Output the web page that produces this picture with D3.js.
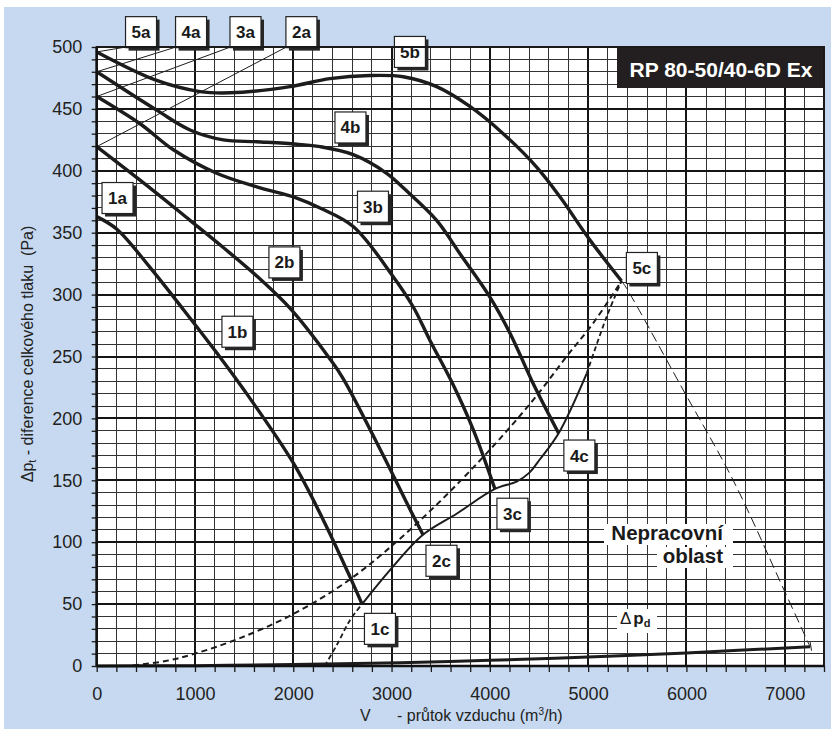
<!DOCTYPE html>
<html><head><meta charset="utf-8">
<script src="https://cdn.jsdelivr.net/npm/d3@7/dist/d3.min.js"></script>
<style>
html,body{margin:0;padding:0;background:#fff;}
svg{display:block;font-family:"Liberation Sans",Arial,Helvetica,sans-serif;}
</style></head>
<body>
<svg id="chart" width="835" height="729"></svg>
<script>
// ---- data (airflow m3/h, pressure Pa) ----
const xTicks = [0,1000,2000,3000,4000,5000,6000,7000];
const yTicks = [0,50,100,150,200,250,300,350,400,450,500];
const curve1 = [[0,363],[203,353],[542,322],[881,288],[1221,253],[1490,224],[2000,164],[2305,118],[2577,72],[2700,50]];
const curve2 = [[0,419.5],[576,384],[949,360],[1288,338],[1628,315],[1966,289],[2373,248],[2509,232],[2916,170],[3153,132],[3320,106]];
const curve3 = [[0,460],[441,438],[780,417],[1221,398],[1628,387],[2035,378],[2272,370],[2610,355],[3017,314.5],[3221,290],[3391,263],[3628,227],[3831,191],[4052,143]];
const curve4 = [[0,480],[610,449],[949,433],[1288,425],[1628,423.5],[2035,421.5],[2272,419.5],[2610,413],[2950,398],[3136,385],[3459,360],[3696,333],[4001,298],[4204,269],[4442,228],[4700,188]];
const curve5 = [[0,496],[610,473],[1051,464],[1356,463],[1967,468],[2373,474.5],[2780,477],[3119,476],[3459,468],[3797,452],[4136,430],[4476,403],[4713,379],[5019,344],[5340,311]];
const systemCurve = [[370,0.5],[700,4],[1000,10],[1458,22.5],[2000,42],[2577,70],[3221,112.5],[3899,166],[4442,215],[4781,250],[5052,277],[5340,311]];
const limitLow = [[2320,0],[2450,18],[2577,37],[2700,50]];
const limitMid = [[2700,50],[2984,77.5],[3320,106],[3662,123],[4052,143],[4273,149],[4400,156],[4510,167],[4700,188],[4984,236]];
const limitHigh = [[4984,236],[5188,282],[5340,311]];
const limitRight = [[5340,311],[5392,305],[5967,223],[6476,150],[6984,63],[7258,15.6]];
const dynPressure = [[0,0],[1000,0.3],[2000,1.2],[3087,2.7],[4000,4.6],[5000,7.3],[6000,10.6],[7258,15.6]];
const curveStarts = [496,480,460,419.5];
const labelNames = ["5a","4a","3a","2a","1a","5b","4b","3b","2b","1b","5c","4c","3c","2c","1c"];
const labelV = [451,960,1514,2083,212,3187,2582,2811,1910,1432,5547,4911,4230,3508,2882];
const labelP = [512,512,512,512,378,496,435,371,326,270,321.5,170,123,85,30];

const svg = d3.select("#chart");
const x = d3.scaleLinear().domain([0,7400]).range([96.7,824]);
const y = d3.scaleLinear().domain([0,500]).range([666,47]);
const ink = "#1c1c1c";

// background
svg.append("rect").attr("x",4).attr("y",7).attr("width",827).attr("height",722).attr("fill","#c6d9f0");
svg.append("rect").attr("x",x(0)).attr("y",y(500)).attr("width",x(7400)-x(0)).attr("height",y(0)-y(500)).attr("fill","#fff");

// grid
const g = svg.append("g").attr("shape-rendering","crispEdges");
d3.range(200,7400,200).forEach(v=>{
  const major = v%1000===0;
  g.append("line").attr("x1",x(v)).attr("x2",x(v)).attr("y1",y(0)).attr("y2",y(500))
   .attr("stroke",major?"#151515":"#333").attr("stroke-width",major?2:1);
});
d3.range(10,500,10).forEach(p=>{
  const major = p%50===0;
  g.append("line").attr("x1",x(0)).attr("x2",x(7400)).attr("y1",y(p)).attr("y2",y(p))
   .attr("stroke",major?"#151515":"#333").attr("stroke-width",major?2:1);
});

// title box
svg.append("rect").attr("x",617).attr("y",y(500)).attr("width",x(7400)-617).attr("height",41).attr("fill","#231f20");
svg.append("text").attr("x",721).attr("y",76.5).attr("text-anchor","middle").attr("fill","#fff")
  .attr("font-size",21).attr("font-weight","bold").text("RP 80-50/40-6D Ex");

// lines
const line = d3.line().x(d=>x(d[0])).y(d=>y(d[1])).curve(d3.curveCatmullRom.alpha(0.5));
const lines = svg.append("g").attr("fill","none");
curveStarts.forEach((p,i)=>{
  lines.append("line").attr("x1",x(0)).attr("y1",y(p)).attr("x2",x(labelV[i])-15).attr("y2",y(500))
    .attr("stroke",ink).attr("stroke-width",1);
});
lines.append("path").attr("d",line(dynPressure)).attr("stroke",ink).attr("stroke-width",3);
lines.append("line").attr("x1",x(7258)).attr("x2",x(7258)+1.5).attr("y1",y(15.6)-5).attr("y2",y(15.6)+4).attr("stroke",ink).attr("stroke-width",1);
lines.append("path").attr("d",line(systemCurve)).attr("stroke",ink).attr("stroke-width",2).attr("stroke-dasharray","6,4");
lines.append("path").attr("d",line(limitLow)).attr("stroke",ink).attr("stroke-width",1.8).attr("stroke-dasharray","5,3");
lines.append("path").attr("d",line(limitMid)).attr("stroke",ink).attr("stroke-width",2);
lines.append("path").attr("d",line(limitHigh)).attr("stroke",ink).attr("stroke-width",1.8).attr("stroke-dasharray","5,3");
lines.append("path").attr("d",line(limitRight)).attr("stroke",ink).attr("stroke-width",1).attr("stroke-dasharray","10,5");
[curve1,curve2,curve3,curve4,curve5].forEach(c=>{
  lines.append("path").attr("d",line(c)).attr("stroke",ink).attr("stroke-width",3.4).attr("stroke-linejoin","round");
});

// labelled boxes
const bx = svg.append("g");
labelNames.forEach((t,i)=>{
  const cx = x(labelV[i]), cy = y(labelP[i]);
  bx.append("rect").attr("x",cx-15.5+3).attr("y",cy-15.5+3).attr("width",31).attr("height",31).attr("fill","#262626");
  bx.append("rect").attr("x",cx-15.5).attr("y",cy-15.5).attr("width",31).attr("height",31)
    .attr("fill","#fff").attr("stroke","#222").attr("stroke-width",1.2);
  bx.append("text").attr("x",cx).attr("y",cy+6).attr("text-anchor","middle").attr("font-size",17)
    .attr("font-weight","bold").attr("fill","#1a1a1a").text(t);
});

// non-working area text
const nt = svg.append("g");
nt.append("rect").attr("x",604).attr("y",524).attr("width",129).attr("height",21).attr("fill","#fff");
nt.append("rect").attr("x",657).attr("y",547).attr("width",76).attr("height",21).attr("fill","#fff");
nt.append("text").attr("x",723).attr("y",540).attr("text-anchor","end").attr("font-size",20.5).attr("font-weight","bold").attr("fill","#1a1a1a").text("Nepracovní");
nt.append("text").attr("x",723).attr("y",563).attr("text-anchor","end").attr("font-size",20.5).attr("font-weight","bold").attr("fill","#1a1a1a").text("oblast");
nt.append("rect").attr("x",617).attr("y",609).attr("width",40).attr("height",24).attr("fill","#fff");
const dp = nt.append("text").attr("x",620).attr("y",624).attr("font-size",17).attr("fill","#1a1a1a");
dp.append("tspan").text("Δ");
dp.append("tspan").attr("font-weight","bold").attr("dx",2).text("p");
dp.append("tspan").attr("font-weight","bold").attr("font-size",11).attr("dy",3).text("d");

// axes
const axL = svg.append("g").attr("transform",`translate(${x(0)},0)`)
  .call(d3.axisLeft(y).tickValues(yTicks).tickSize(0).tickPadding(14.5));
const axLm = svg.append("g").attr("transform",`translate(${x(0)},0)`)
  .call(d3.axisLeft(y).tickValues(d3.range(0,501,10)).tickSize(5).tickFormat(""));
const axB = svg.append("g").attr("transform",`translate(0,${y(0)})`)
  .call(d3.axisBottom(x).tickValues(xTicks).tickSize(0).tickPadding(21).tickFormat(d3.format("d")));
const axBm = svg.append("g").attr("transform",`translate(0,${y(0)})`)
  .call(d3.axisBottom(x).tickValues(d3.range(0,7401,200)).tickSize(6).tickFormat(""));
[axL,axB].forEach(a=>{
  a.selectAll("text").attr("font-size",18).attr("fill","#222").attr("font-family",'"Liberation Sans",Arial,sans-serif');
  a.select(".domain").remove();
});
[axLm,axBm].forEach(a=>{
  a.selectAll("line").attr("stroke","#1a1a1a").attr("stroke-width",1.3);
  a.select(".domain").remove();
});
// frame
svg.append("rect").attr("x",x(0)).attr("y",y(500)).attr("width",x(7400)-x(0)).attr("height",y(0)-y(500))
  .attr("fill","none").attr("stroke","#1a1a1a").attr("stroke-width",2);
svg.append("line").attr("x1",x(0)).attr("x2",x(0)).attr("y1",y(500)).attr("y2",y(0)).attr("stroke","#111").attr("stroke-width",2.5);
svg.append("line").attr("x1",x(0)).attr("x2",x(7400)).attr("y1",y(0)).attr("y2",y(0)).attr("stroke","#111").attr("stroke-width",2.5);

// axis titles
const yt = svg.append("text").attr("transform","translate(32.5,354) rotate(-90)").attr("text-anchor","middle")
  .attr("font-size",16).attr("fill","#222");
yt.append("tspan").text("Δp");
yt.append("tspan").attr("font-size",11).attr("dy",3).text("t");
yt.append("tspan").attr("dy",-3).text(" - diference celkového tlaku\u00a0\u00a0(Pa)");

const xt = svg.append("text").attr("x",360).attr("y",721).attr("font-size",16).attr("fill","#222");
xt.append("tspan").text("V");
xt.append("tspan").attr("x",397).text("- průtok vzduchu (m");
xt.append("tspan").attr("font-size",10).attr("dy",-6).text("3");
xt.append("tspan").attr("dy",6).text("/h)");
</script>
</body></html>
